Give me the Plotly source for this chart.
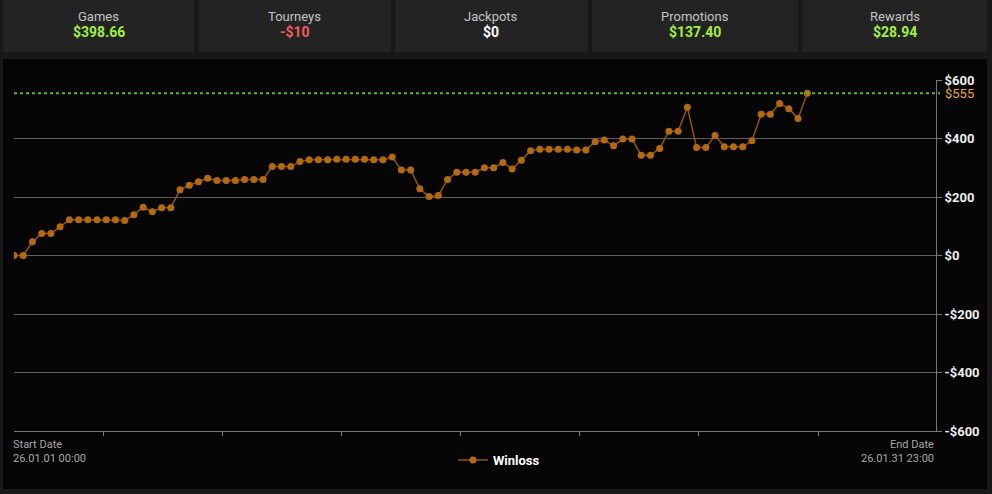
import plotly.graph_objects as go
import pandas as pd

W, H = 992, 494
# plot area in pixels
PL, PR, PT, PB = 14, 938, 80, 431

card_labels = ["Games", "Tourneys", "Jackpots", "Promotions", "Rewards"]
card_values = ["$398.66", "-$10", "$0", "$137.40", "$28.94"]
card_colors = ["#a2f03e", "#f25c5c", "#ffffff", "#a2f03e", "#a2f03e"]

winloss = [
    0, 0, 47, 75, 75, 98, 122, 122, 122, 122, 122, 122, 120, 139, 165, 150,
    163, 163, 225, 240, 252, 264, 256, 256, 256, 260, 260, 260,
    304, 304, 304, 321, 327, 327, 327, 329, 329, 329, 329, 327, 327, 337,
    292, 292, 228, 202, 205, 260, 285, 285, 285, 300, 300, 318, 296,
    326, 358, 363, 363, 363, 363, 361, 361, 389, 395, 375, 398, 398,
    343, 343, 366, 425, 425, 507, 369, 369, 410, 372, 372, 372, 392,
    483, 483, 520, 502, 468, 555,
]
times = pd.date_range("2026-01-01 00:00", periods=len(winloss), freq="446min")

current = 555
start_label = "26.01.01 00:00"
end_label = "26.01.31 23:00"
y_ticks = [600, 400, 200, 0, -200, -400, -600]
y_labels = ["$600", "$400", "$200", "$0", "-$200", "-$400", "-$600"]
x_ticks = ["2026-01-04", "2026-01-08", "2026-01-12", "2026-01-16",
           "2026-01-20", "2026-01-24", "2026-01-28"]


def px(x):
    return (x - PL) / (PR - PL)


def py(y):
    return (PB - y) / (PB - PT)


def label(x, y, text, size, color, anchor="center", bold=False):
    return dict(xref="paper", yref="paper", x=px(x), y=py(y),
                xanchor=anchor, yanchor="middle", showarrow=False,
                text="<b>" + text + "</b>" if bold else text,
                font=dict(size=size, color=color))


fig = go.Figure()
fig.add_trace(go.Scatter(
    x=times, y=winloss, mode="lines+markers", name="<b>Winloss</b>",
    line=dict(color="#955509", width=1.5),
    marker=dict(color="#b4690c", size=7),
))

shapes = []
annotations = []

# chart panel
shapes.append(dict(type="rect", xref="paper", yref="paper", layer="below",
                   x0=px(3), x1=px(989), y0=py(59), y1=py(489),
                   fillcolor="#050505", line=dict(width=0)))

# top cards
card_x = [(3, 195), (199, 392), (396, 589), (593, 800), (804, 989)]
for (x0, x1), lab, val, col in zip(card_x, card_labels, card_values, card_colors):
    shapes.append(dict(type="rect", xref="paper", yref="paper", layer="below",
                       x0=px(x0), x1=px(x1), y0=py(0), y1=py(52),
                       fillcolor="#232323", line=dict(width=0)))
    cx = (x0 + x1) / 2
    annotations.append(label(cx, 17, lab, 13, "#c4c4c4"))
    annotations.append(label(cx, 32, val, 14, col, bold=True))

# current value line
shapes.append(dict(type="line", xref="paper", yref="y",
                   x0=0, x1=px(942), y0=current, y1=current,
                   line=dict(color="#5cb81c", width=2, dash="dot")))
annotations.append(dict(xref="paper", yref="y", x=px(945), y=current,
                        xanchor="left", yanchor="middle", text="$555",
                        showarrow=False,
                        font=dict(size=13, color="#e8a53a")))

# start / end labels
annotations.append(label(11, 444, "Start Date", 11, "#a8a8a8", "left"))
annotations.append(label(11, 458, start_label, 11, "#a8a8a8", "left"))
annotations.append(label(938, 444, "End Date", 11, "#a8a8a8", "right"))
annotations.append(label(938, 458, end_label, 11, "#a8a8a8", "right"))

fig.update_layout(
    width=W, height=H,
    margin=dict(l=PL, r=W - PR, t=PT, b=H - PB),
    paper_bgcolor="#181818",
    plot_bgcolor="#050505",
    font=dict(family="Roboto", color="#eeeeee"),
    shapes=shapes,
    annotations=annotations,
    showlegend=True,
    legend=dict(orientation="h", x=px(500), y=py(460), xanchor="center",
                yanchor="middle", bgcolor="rgba(0,0,0,0)",
                font=dict(size=13, color="#ffffff", family="Roboto"),
                itemwidth=30),
    xaxis=dict(type="date", range=["2026-01-01 00:00", "2026-01-31 23:00"],
               tickvals=x_ticks, showticklabels=False, ticks="outside",
               ticklen=4, tickcolor="#777777", showline=True,
               linecolor="#777777", linewidth=1, showgrid=False,
               zeroline=False),
    yaxis=dict(side="right", range=[-600, 600], tickvals=y_ticks,
               ticktext=y_labels, ticks="outside", ticklen=5,
               tickcolor="#777777", showline=True, linecolor="#777777",
               gridcolor="#5e5e5e", gridwidth=1, zeroline=False,
               tickfont=dict(size=13, color="#eeeeee", weight="bold")),
)

fig.write_html("out.html", config={"displayModeBar": False},
               post_script="document.body.style.margin='0';")
